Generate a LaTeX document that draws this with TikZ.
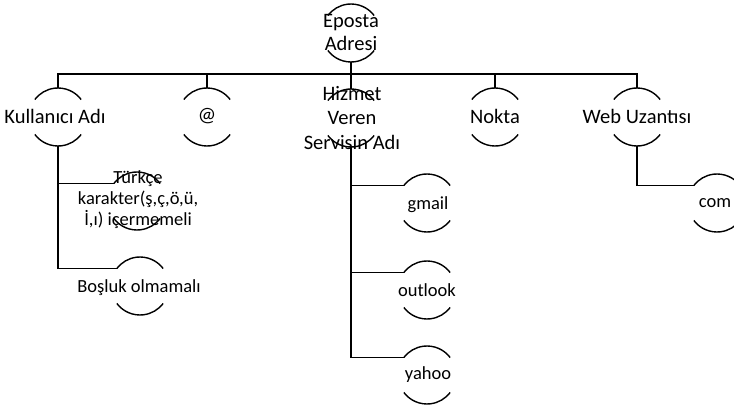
\documentclass[tikz,border=0pt]{standalone}
\usepackage{fontspec}
\setmainfont{Carlito}
\begin{document}
\begin{tikzpicture}[x=1pt,y=1pt,
  ring/.style={circle, minimum size=58pt, inner sep=0pt, outer sep=0pt},
  maintext/.style={align=center, inner sep=0pt, font=\fontsize{20.5}{23}\selectfont},
  subtext/.style={align=center, inner sep=0pt, font=\fontsize{18.5}{21}\selectfont},
  link/.style={line width=1.4pt, black},
  arcline/.style={line width=1.4pt, black}]
\useasboundingbox[fill=white] (0,0) rectangle (734,-409);

% circles (only their top and bottom arcs are drawn)
\node[ring] (ep) at (351,-33) {};
\node[ring] (ku) at (58,-117) {};
\node[ring] (at) at (207,-117) {};
\node[ring] (hz) at (351,-118) {};
\node[ring] (no) at (495,-117) {};
\node[ring] (wu) at (637,-117) {};
\node[ring] (tr) at (137,-201) {};
\node[ring] (bo) at (140,-286) {};
\node[ring] (gm) at (427,-203) {};
\node[ring] (ou) at (427,-290) {};
\node[ring] (ya) at (427,-375) {};
\node[ring] (co) at (717,-203) {};

\foreach \n in {ep,ku,at,hz,no,wu,tr,bo,gm,ou,ya,co}
  \draw[arcline] (\n.37) arc[start angle=37,end angle=143,radius=29pt]
                 (\n.217) arc[start angle=217,end angle=323,radius=29pt];

% labels
\node[maintext] (ep-t) at (351,-32.5) {Eposta\\Adresi};
\node[maintext] (ku-t) at (55,-116) {Kullanıcı Adı};
\node[maintext] (at-t) at (207,-116) {@};
\node[maintext, font=\fontsize{20.5}{24.5}\selectfont] (hz-t) at (352,-118) {Hizmet\\Veren\\Servisin Adı};
\node[maintext] (no-t) at (495,-116) {Nokta};
\node[maintext] (wu-t) at (637,-116) {Web Uzantısı};
\node[subtext] (tr-t) at (138,-200) {Türkçe\\karakter(ş,ç,ö,ü,\\İ,ı) içermemeli};
\node[subtext] (bo-t) at (139,-288) {Boşluk olmamalı};
\node[subtext] (gm-t) at (428,-205) {gmail};
\node[subtext] (ou-t) at (427,-290) {outlook};
\node[subtext] (ya-t) at (428,-375) {yahoo};
\node[subtext] (co-t) at (715,-203) {com};

% main bus
\coordinate (bus) at (0,-74);
\draw[link] (ep.south) -- (ep.south |- bus);
\draw[link] (ku.north) -- (ku.north |- bus) -- (wu.north |- bus) -- (wu.north);
\draw[link] (at.north) -- (at.north |- bus);
\draw[link] (hz.north) -- (hz.north |- bus);
\draw[link] (no.north) -- (no.north |- bus);

% branches
\draw[link] (ku.south) |- (tr.143);
\draw[link] (ku.south) |- (bo.143);
\draw[link] (hz.south) |- (gm.143);
\draw[link] (hz.south) |- (ou.143);
\draw[link] (hz.south) |- (ya.143);
\draw[link] (wu.south) |- (co.143);
\end{tikzpicture}
\end{document}
